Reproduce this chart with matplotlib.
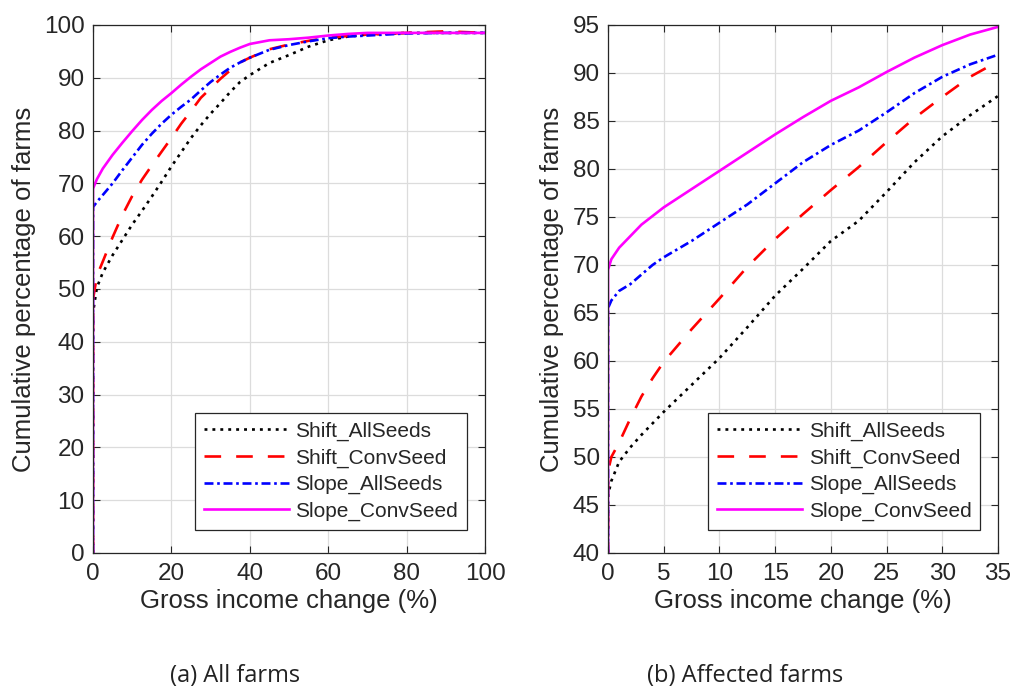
import numpy as np
import matplotlib.pyplot as plt

plt.rcParams['font.family'] = ['Liberation Sans', 'DejaVu Sans']

# (a) all farms: cumulative share of farms vs gross income change
x_all = [0, 0, 1, 2.5, 5, 7.5, 10, 12.5, 15, 17.5, 20, 22.5, 25, 27.5, 30, 32.5, 35,
         37.5, 40, 45, 50, 55, 60, 65, 70, 80, 90, 100]
shift_all_a = [0, 45.5, 50.3, 53.1, 56.4, 59.3, 62.2, 64.8, 67.5, 70.3, 73.2, 75.9, 78.6,
               81.0, 83.2, 85.2, 87.3, 89.2, 90.5, 92.8, 94.3, 95.9, 97.1, 97.8, 98.2, 98.5, 98.5, 98.5]
shift_conv_a = [0, 48.0, 52.5, 55.2, 59.8, 64.0, 67.6, 70.7, 73.4, 76.0, 78.6, 81.3, 83.7,
                86.2, 88.0, 89.8, 91.4, 92.9, 93.8, 95.4, 96.3, 97.0, 97.6, 97.9, 98.2, 98.5, 98.8, 98.5]
slope_all_a = [0, 65.5, 66.5, 67.8, 70.0, 72.5, 74.9, 77.3, 79.4, 81.3, 83.0, 84.5, 85.9,
               87.6, 89.2, 90.6, 91.9, 92.9, 93.8, 95.3, 96.2, 96.9, 97.5, 97.8, 98.0, 98.4, 98.5, 98.5]
slope_conv_a = [0, 69.0, 70.8, 72.8, 75.4, 77.7, 79.9, 82.0, 83.9, 85.6, 87.1, 88.7, 90.2,
                91.6, 92.8, 94.0, 94.9, 95.7, 96.4, 97.1, 97.3, 97.6, 98.0, 98.3, 98.5, 98.5, 98.5, 98.5]

# (b) affected farms, zoomed to 0-35 %
x_aff = [0, 0, 0.3, 1, 2, 3, 4, 5, 7.5, 10, 12.5, 15, 17.5, 20, 22.5, 25, 27.5, 30, 32.5, 35]
shift_all_b = [0, 46.0, 47.5, 49.5, 51.0, 52.3, 53.5, 54.7, 57.5, 60.3, 63.5, 66.8, 69.6,
               72.5, 74.6, 77.6, 80.7, 83.4, 85.6, 87.6]
shift_conv_b = [0, 48.5, 50.0, 51.5, 54.0, 56.3, 58.2, 59.9, 63.3, 66.5, 69.8, 72.7, 75.3,
                77.8, 80.2, 82.8, 85.3, 87.5, 89.6, 91.2]
slope_all_b = [0, 65.5, 66.3, 67.3, 68.0, 69.0, 70.0, 70.8, 72.5, 74.4, 76.3, 78.5, 80.7,
               82.5, 84.0, 85.9, 87.9, 89.6, 90.9, 91.9]
slope_conv_b = [0, 69.5, 70.6, 71.8, 73.0, 74.2, 75.1, 76.0, 77.9, 79.8, 81.7, 83.6, 85.4,
                87.1, 88.5, 90.1, 91.6, 92.9, 94.0, 94.8]

labels = ['Shift_AllSeeds', 'Shift_ConvSeed', 'Slope_AllSeeds', 'Slope_ConvSeed']
colors = ['black', 'red', 'blue', 'magenta']
dashes = [(1.1, 1.9), (6.3, 5.7), (3.4, 1.4, 1.0, 1.4), ()]

panels = [
    (x_all, [shift_all_a, shift_conv_a, slope_all_a, slope_conv_a],
     (0, 100), np.arange(0, 101, 20), (0, 100), np.arange(0, 101, 10), '(a) All farms'),
    (x_aff, [shift_all_b, shift_conv_b, slope_all_b, slope_conv_b],
     (0, 35), np.arange(0, 36, 5), (40, 95), np.arange(40, 96, 5), '(b) Affected farms'),
]

fig = plt.figure(figsize=(10.13, 6.86), dpi=100)
boxes = [[0.0918, 0.1939, 0.387, 0.7697], [0.6002, 0.1939, 0.385, 0.7697]]
caption_x = [0.232, 0.736]
ink = '#262626'

for box, (xs, series, xlim, xt, ylim, yt, cap), cx in zip(boxes, panels, caption_x):
    ax = fig.add_axes(box)
    for ys, lab, c, d in zip(series, labels, colors, dashes):
        line, = ax.plot(xs, ys, color=c, lw=1.9, label=lab)
        if d:
            line.set_dashes(d)
    ax.set_xlim(*xlim)
    ax.set_ylim(*ylim)
    ax.set_xticks(xt)
    ax.set_yticks(yt)
    ax.grid(True, color='#dcdcdc', lw=0.9)
    ax.set_axisbelow(True)
    ax.tick_params(direction='in', top=True, right=True, length=5, width=0.8,
                   labelsize=17.5, colors=ink)
    ax.tick_params(axis='y', pad=6)
    ax.tick_params(axis='x', pad=7)
    for s in ax.spines.values():
        s.set_color(ink)
        s.set_linewidth(0.9)
    ax.set_xlabel('Gross income change (%)', fontsize=18.5, color=ink, labelpad=3)
    ax.set_ylabel('Cumulative percentage of farms', fontsize=18.5, color=ink, labelpad=6)
    leg = ax.legend(loc='lower right', fontsize=15, handlelength=4.1, handletextpad=0.3,
                    borderpad=0.42, labelspacing=0.36, borderaxespad=0, fancybox=False,
                    framealpha=1, edgecolor=ink, bbox_to_anchor=(0.954, 0.044))
    leg.get_frame().set_linewidth(0.9)
    for t in leg.get_texts():
        t.set_color(ink)
    fig.text(cx, 0.006, cap, ha='center', va='baseline', fontsize=17, color='#222222',
             family=['Open Sans', 'DejaVu Sans'])

fig.savefig('out.png', dpi=100)
